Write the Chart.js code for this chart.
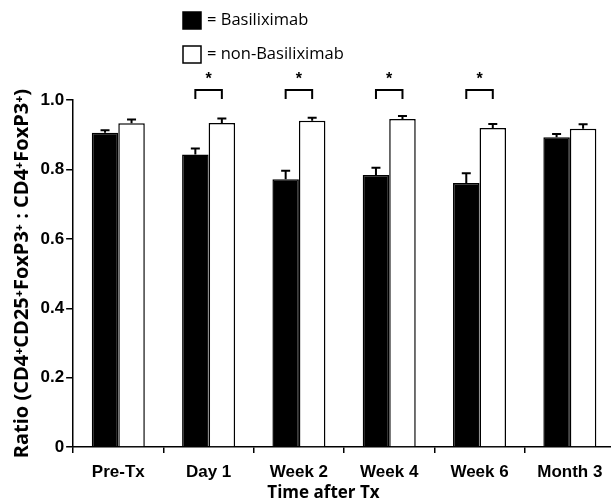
<!DOCTYPE html>
<html>
<head>
<meta charset="utf-8">
<script src="https://cdn.jsdelivr.net/npm/chart.js@4.4.1/dist/chart.umd.min.js"></script>
<style>
  html, body { margin: 0; padding: 0; background: #fff; overflow: hidden; }
  canvas { display: block; }
</style>
</head>
<body>
<canvas id="grafico" width="616" height="502"></canvas>
<script>
// Datos
const categorias = ['Pre-Tx', 'Day 1', 'Week 2', 'Week 4', 'Week 6', 'Month 3'];
const basiliximab = [0.906, 0.843, 0.772, 0.784, 0.761, 0.893];
const basiliximabSem = [0.007, 0.017, 0.024, 0.021, 0.028, 0.009];
const noBasiliximab = [0.933, 0.934, 0.940, 0.945, 0.919, 0.917];
const noBasiliximabSem = [0.011, 0.013, 0.009, 0.009, 0.012, 0.013];
const significativos = [false, true, true, true, true, false];
const ticksY = [0, 0.2, 0.4, 0.6, 0.8, 1.0];

const fuenteTexto = "'Open Sans', 'Noto Sans', sans-serif";
const fuenteEjes = "'Liberation Sans', Arial, sans-serif";

// Barras de error (solo hacia arriba)
const erroresPlugin = {
    id: 'errores',
    afterDatasetsDraw(chart) {
        const ctx = chart.ctx;
        const y = chart.scales.y;
        const sems = [basiliximabSem, noBasiliximabSem];
        ctx.save();
        ctx.strokeStyle = '#000';
        ctx.lineWidth = 2;
        chart.data.datasets.forEach((ds, d) => {
            chart.getDatasetMeta(d).data.forEach((bar, i) => {
                const top = y.getPixelForValue(ds.data[i] + sems[d][i]);
                ctx.beginPath();
                ctx.moveTo(bar.x, bar.y);
                ctx.lineTo(bar.x, top);
                ctx.moveTo(bar.x - 4.5, top);
                ctx.lineTo(bar.x + 4.5, top);
                ctx.stroke();
            });
        });
        ctx.restore();
    }
};

// Corchetes de significancia, leyenda y título del eje X
const anotacionesPlugin = {
    id: 'anotaciones',
    afterDraw(chart) {
        const ctx = chart.ctx;
        const y = chart.scales.y;
        const x = chart.scales.x;
        const negras = chart.getDatasetMeta(0).data;
        const blancas = chart.getDatasetMeta(1).data;
        ctx.save();
        ctx.strokeStyle = '#000';
        ctx.fillStyle = '#000';
        ctx.lineWidth = 2;
        significativos.forEach((sig, i) => {
            if (!sig) return;
            const x1 = negras[i].x, x2 = blancas[i].x;
            const yTop = y.getPixelForValue(1.029);
            const yBot = y.getPixelForValue(1.003);
            ctx.beginPath();
            ctx.moveTo(x1, yBot);
            ctx.lineTo(x1, yTop);
            ctx.lineTo(x2, yTop);
            ctx.lineTo(x2, yBot);
            ctx.stroke();
            ctx.font = "bold 16px " + fuenteEjes;
            ctx.textAlign = 'center';
            ctx.textBaseline = 'middle';
            ctx.fillText('*', (x1 + x2) / 2, y.getPixelForValue(1.058));
        });

        // Leyenda
        ctx.font = "16.5px " + fuenteTexto;
        ctx.textAlign = 'left';
        ctx.textBaseline = 'middle';
        chart.data.datasets.forEach((ds, d) => {
            const cy = 20 + d * 34;
            ctx.fillStyle = ds.backgroundColor;
            ctx.fillRect(183, cy - 8, 18, 17);
            ctx.lineWidth = 1.5;
            ctx.strokeStyle = '#000';
            ctx.strokeRect(183, cy - 8, 18, 17);
            ctx.fillStyle = '#000';
            ctx.fillText('= ' + ds.label, 207, cy);
        });

        // Título eje X
        ctx.font = "bold 17px " + fuenteTexto;
        ctx.textAlign = 'center';
        ctx.textBaseline = 'middle';
        ctx.fillText('Time after Tx', x.left + (x.right - x.left) * 0.462, 493);
        ctx.restore();
    }
};

const ctxGrafico = document.getElementById('grafico').getContext('2d');
new Chart(ctxGrafico, {
    type: 'bar',
    data: {
        labels: categorias,
        datasets: [
            {
                label: 'Basiliximab',
                data: basiliximab,
                backgroundColor: '#000000',
                borderColor: '#000000',
                borderWidth: 1.5,
                categoryPercentage: 0.587,
                barPercentage: 1.0
            },
            {
                label: 'non-Basiliximab',
                data: noBasiliximab,
                backgroundColor: '#ffffff',
                borderColor: '#000000',
                borderWidth: 1.5,
                categoryPercentage: 0.587,
                barPercentage: 1.0
            }
        ]
    },
    options: {
        responsive: false,
        animation: false,
        layout: { padding: { top: 100, left: 10.5, right: 1, bottom: 10.5 } },
        plugins: {
            legend: { display: false },
            tooltip: { enabled: false }
        },
        scales: {
            x: {
                grid: { drawOnChartArea: false, color: '#000', lineWidth: 1.5, tickLength: 6, offset: true },
                border: { color: '#000', width: 1.5 },
                ticks: {
                    color: '#000',
                    padding: 9,
                    font: { family: fuenteEjes, weight: 'bold', size: 17 }
                }
            },
            y: {
                min: 0,
                max: 1,
                afterBuildTicks: (scale) => { scale.ticks = ticksY.map(v => ({ value: v })); },
                grid: { drawOnChartArea: false, color: '#000', lineWidth: 1.5, tickLength: 7 },
                border: { color: '#000', width: 1.5 },
                ticks: {
                    color: '#000',
                    padding: 2,
                    font: { family: fuenteEjes, weight: 'bold', size: 17 },
                    callback: (v) => v === 0 ? '0' : v.toFixed(1)
                },
                title: {
                    display: true,
                    text: 'Ratio (CD4⁺CD25⁺FoxP3⁺ : CD4⁺FoxP3⁺)',
                    color: '#000',
                    padding: { top: 0, bottom: 4 },
                    font: { family: fuenteTexto, weight: 'bold', size: 20 }
                }
            }
        }
    },
    plugins: [erroresPlugin, anotacionesPlugin]
});
</script>
</body>
</html>
